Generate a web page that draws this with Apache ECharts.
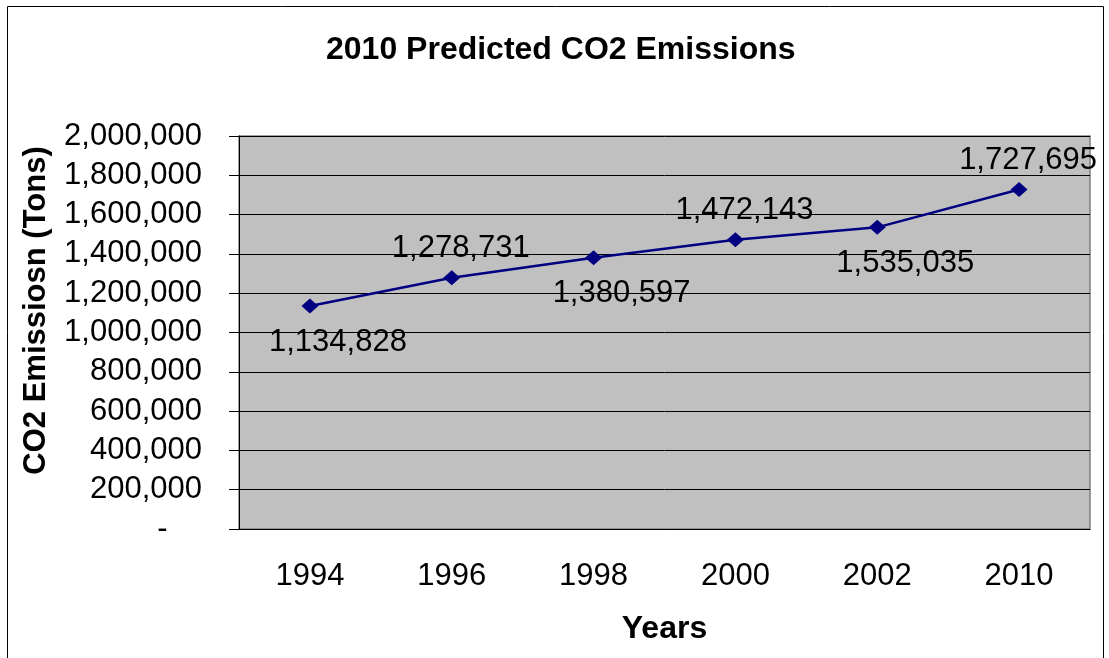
<!DOCTYPE html>
<html>
<head>
<meta charset="utf-8">
<script src="https://cdn.jsdelivr.net/npm/echarts@6/dist/echarts.min.js"></script>
<style>
    html, body {margin: 0; padding: 0; background: #fff;}
    #main {width: 1109px; height: 658px;}
</style>
</head>
<body>
<div id="main"></div>
<script>
    // 数据
    var years = ['1994', '1996', '1998', '2000', '2002', '2010'];
    var emissions = [1134828, 1278731, 1380597, 1472143, 1535035, 1727695];

    var font = '"Liberation Sans", Arial, sans-serif';

    function fmt(v) {
        return v.toLocaleString('en-US');
    }

    var myChart = echarts.init(document.getElementById('main'));
    myChart.setOption({
        animation: false,
        backgroundColor: '#fff',
        title: {
            text: '2010 Predicted CO2 Emissions',
            left: 321,
            top: 29,
            textStyle: {fontFamily: font, fontSize: 32, fontWeight: 'bold', color: '#000'}
        },
        grid: {left: 239, right: 19, top: 136, bottom: 129, show: true,
            backgroundColor: '#c0c0c0', borderColor: '#808080', borderWidth: 1.5},
        graphic: [{
            type: 'rect',
            shape: {x: 7.5, y: 6.5, width: 1096, height: 700},
            style: {fill: 'none', stroke: '#000', lineWidth: 1},
            silent: true
        }],
        xAxis: {
            type: 'category',
            data: years,
            boundaryGap: true,
            name: 'Years',
            nameLocation: 'middle',
            nameGap: 84,
            nameTextStyle: {fontFamily: font, fontSize: 32, fontWeight: 'bold', color: '#000', verticalAlign: 'top'},
            axisLine: {lineStyle: {color: '#000', width: 1}},
            axisTick: {length: 11, lineStyle: {color: '#000'}},
            axisLabel: {fontFamily: font, fontSize: 31, color: '#000', margin: 32}
        },
        yAxis: {
            type: 'value',
            min: 0,
            max: 2000000,
            interval: 200000,
            name: 'CO2 Emissiosn (Tons)',
            nameLocation: 'middle',
            nameGap: 187,
            // 标题略高于绘图区中心
            nameTextStyle: {fontFamily: font, fontSize: 31, fontWeight: 'bold', color: '#000', padding: [0, 0, 0, 44]},
            axisLine: {show: true, lineStyle: {color: '#000', width: 1}},
            axisTick: {show: true, length: 10, lineStyle: {color: '#000'}},
            axisLabel: {
                fontFamily: font, fontSize: 31, color: '#000', margin: 37,
                formatter: function (v) {
                    return v === 0 ? '-    ' : fmt(v);
                }
            },
            splitLine: {lineStyle: {color: '#000', width: 1}}
        },
        series: [{
            type: 'line',
            data: emissions.map(function (v, i) {
                // 标签上下交替，Excel 的标签略偏右
                return {
                    value: v,
                    label: i % 2 === 0
                        ? {position: 'bottom', distance: 13, offset: [28, 0]}
                        : {position: 'top', distance: 6, offset: [9, 0]}
                };
            }),
            symbol: 'diamond',
            symbolSize: [17, 15],
            lineStyle: {color: '#000080', width: 2.5},
            itemStyle: {color: '#000080'},
            label: {
                show: true,
                fontFamily: font,
                fontSize: 31,
                color: '#000',
                formatter: function (p) {
                    return fmt(p.value);
                }
            }
        }]
    });
</script>
</body>
</html>
